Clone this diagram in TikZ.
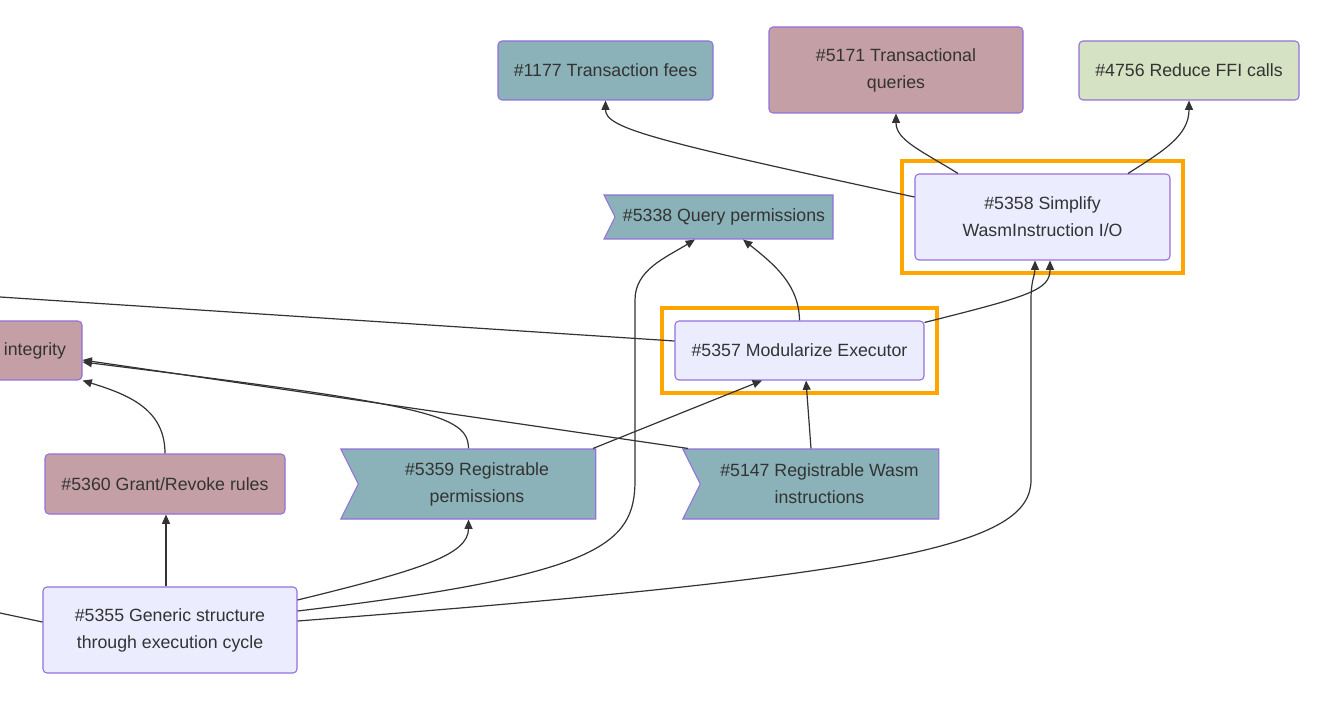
\documentclass[tikz,border=0pt]{standalone}
\usepackage{fontspec}
\setmainfont{Liberation Sans}
\usetikzlibrary{arrows.meta,calc,fit,shapes.symbols}

\definecolor{txtgray}{HTML}{333333}
\definecolor{nodeborder}{HTML}{9370DB}
\definecolor{tealfill}{HTML}{8AB2B8}
\definecolor{mauvefill}{HTML}{C4A0A6}
\definecolor{greenfill}{HTML}{D5E2C3}
\definecolor{lavfill}{HTML}{ECECFF}
\definecolor{hilite}{HTML}{FFA500}

\def\px{0.75pt}

\tikzset{
  box/.style={draw=nodeborder, line width=0.8pt, rounded corners=3pt, inner sep=0pt,
    align=center, text=txtgray, font=\fontsize{13.3}{20.25}\selectfont},
  teal/.style={box, fill=tealfill},
  mauve/.style={box, fill=mauvefill},
  greenish/.style={box, fill=greenfill},
  lav/.style={box, fill=lavfill},
  flagbox/.style={box, rounded corners=0pt, fill=tealfill, signal, signal from=west,
    signal to=nowhere, signal pointer angle=127},
  focus/.style={draw=hilite, line width=3pt, inner sep=12.5*\px},
  edge/.style={draw=txtgray, line width=0.9pt, -{Triangle[length=7pt,width=6pt]}},
  plain/.style={draw=txtgray, line width=0.9pt},
}

\begin{document}
\begin{tikzpicture}[x=0.75pt,y=0.75pt,yscale=-1,xscale=1]
\useasboundingbox (0,0) rectangle (1342,716);
\clip (0,0) rectangle (1342,716);

% top row
\node[teal, minimum width=215*\px, minimum height=59*\px] (n1177) at (605.5,70.5) {\#1177 Transaction fees};
\node[mauve, minimum width=254*\px, minimum height=86*\px] (n5171) at (896,70) {\#5171 Transactional\\queries};
\node[greenish, minimum width=220*\px, minimum height=59*\px] (n4756) at (1189,70.5) {\#4756 Reduce FFI calls};

% middle
\node[lav, minimum width=255*\px, minimum height=86*\px] (n5358) at (1042.5,217) {\#5358 Simplify\\WasmInstruction I/O};
\node[flagbox, minimum width=229*\px, minimum height=44*\px] (n5338) at (724,217) {\#5338 Query permissions};
\node[lav, minimum width=249*\px, minimum height=59*\px] (n5357) at (799.5,350.5) {\#5357 Modularize Executor};
\node[mauve, minimum width=94*\px, minimum height=59*\px] (nint) at (35,350.5) {integrity};

% lower rows
\node[mauve, minimum width=240*\px, minimum height=60*\px] (n5360) at (165,484) {\#5360 Grant/Revoke rules};
\node[flagbox, minimum width=255*\px, minimum height=70*\px] (n5359) at (477,484) {\#5359 Registrable\\permissions};
\node[flagbox, minimum width=256*\px, minimum height=70*\px] (n5147) at (819.5,484) {\#5147 Registrable Wasm\\instructions};
\node[lav, minimum width=254*\px, minimum height=86*\px] (n5355) at (170,630) {\#5355 Generic structure\\through execution cycle};

% highlighted frames
\node[focus, fit=(n5358)] (f5358) {};
\node[focus, fit=(n5357)] (f5357) {};

% ends of edges that leave the picture
\coordinate (offA) at (0,297);
\coordinate (offB) at (0,613);

% edges
\draw[edge] ($(n5358.west)+(0,-20)$) .. controls (650,140) and (605.5,128) .. (n1177.south);
\draw[edge] ($(n5358.north)+(-84.5,0)$) .. controls (920,150) and (896,140) .. (n5171.south);
\draw[edge] ($(n5358.north)+(85.5,0)$) .. controls (1165,150) and (1189,135) .. (n4756.south);
\draw[edge] (n5357.north) .. controls (799,285) and (775,265) .. ($(n5338.south)+(19,0)$);
\draw[edge] ($(n5357.north east)+(0,2)$) .. controls (1030,296) and (1050,290) .. ($(n5358.south)+(7.5,0)$);
\draw[plain] (offA) -- ($(n5357.west)+(0,-9.5)$);

\draw[edge] ($(n5359.north)+(-8.5,0)$) .. controls (468,415) and (430,405) .. ($(nint.east)+(0,11.5)$);
\draw[edge] ($(n5147.north)+(-131.5,0)$) -- ($(nint.east)+(0,9.5)$);
\draw[edge] (n5360.north) .. controls (165,410) and (130,395) .. (nint.south east);
\draw[edge] ($(n5359.north)+(116,0)$) -- ($(n5357.south)+(-37.5,0)$);
\draw[edge] ($(n5147.north)+(-8.5,0)$) -- ($(n5357.south)+(6.5,0)$);

\draw[edge] ($(n5355.north)+(-4,0)$) -- ($(n5360.south)+(1,0)$);
\draw[edge] ($(n5355.east)+(0,-30)$) .. controls (420,570) and (468.5,555) .. ($(n5359.south)+(-8.5,0)$);
\draw[edge] ($(n5355.east)+(0,-19)$) .. controls (600,575) and (635,545) .. (635,480) -- (635,300)
  .. controls (635,270) and (665,258) .. ($(n5338.south)+(-29,0)$);
\draw[edge] ($(n5355.east)+(0,-9)$) .. controls (900,575) and (1031,545) .. (1031,480) -- (1031,300)
  .. controls (1031,280) and (1035,275) .. ($(n5358.south)+(-7.5,0)$);
\draw[plain] (offB) -- ($(n5355.west)+(0,-8)$);

\end{tikzpicture}
\end{document}
